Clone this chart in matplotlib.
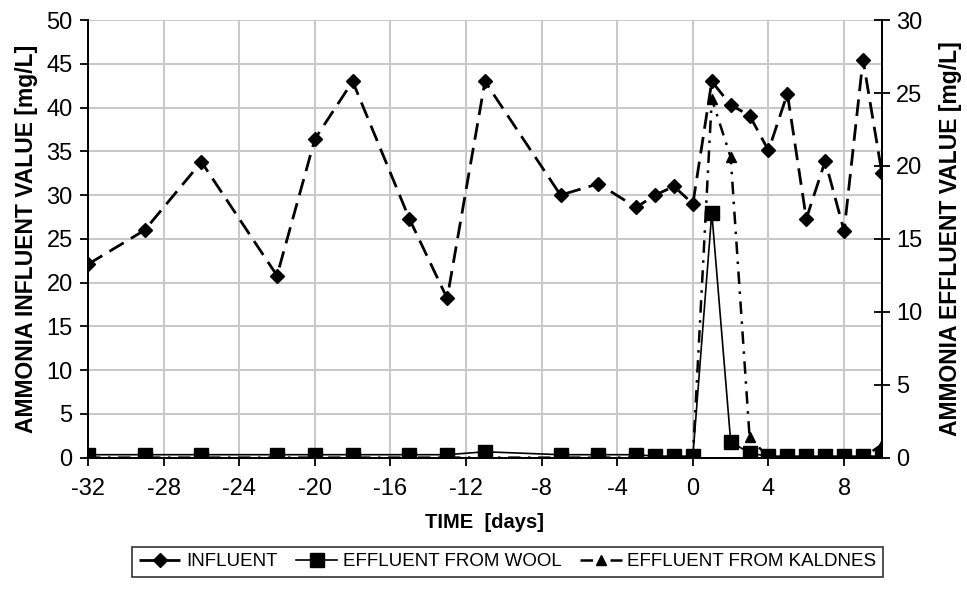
import numpy as np
import matplotlib.pyplot as plt

# ─── DATA ────────────────────────────────────────
days = [-32, -29, -26, -22, -20, -18, -15, -13, -11, -7, -5, -3, -2, -1,
        0, 1, 2, 3, 4, 5, 6, 7, 8, 9, 10]
influent = [22.1, 26.0, 33.8, 20.8, 36.4, 43.0, 27.3, 18.2, 43.0, 30.0,
            31.3, 28.6, 30.0, 31.0, 29.0, 43.0, 40.3, 39.1, 35.1, 41.6,
            27.3, 33.9, 25.9, 45.5, 32.5]
wool = [0.2, 0.2, 0.2, 0.2, 0.2, 0.2, 0.2, 0.2, 0.4, 0.2,
        0.2, 0.2, 0.1, 0.1, 0.1, 16.8, 1.1, 0.3, 0.1, 0.1,
        0.1, 0.1, 0.1, 0.1, 0.1]
kaldnes = [0.0, 0.0, 0.0, 0.0, 0.0, 0.0, 0.0, 0.0, 0.0, 0.0,
           0.0, 0.0, 0.0, 0.0, 0.0, 24.6, 20.6, 1.4, 0.0, 0.0,
           0.0, 0.0, 0.0, 0.0, 0.9]
xticks = list(range(-32, 9, 4))

plt.rcParams['font.family'] = ['Liberation Sans', 'DejaVu Sans']
plt.rcParams['axes.unicode_minus'] = False

fig = plt.figure(figsize=(9.67, 5.92), dpi=100)
ax = fig.add_axes([0.091, 0.227, 0.821, 0.739])
ax2 = ax.twinx()

# ─── INFLUENT (eixo esquerdo) ────────────────────
l1, = ax.plot(days, influent, color='black', lw=2, dashes=(6, 3),
              marker='D', markersize=7, zorder=3, label='INFLUENT')

# ─── EFFLUENTS (eixo direito) ────────────────────
l3, = ax2.plot(days, kaldnes, color='black', lw=1.8, dashes=(5, 3, 1, 3),
               marker='^', markersize=7.5, zorder=2, label='EFFLUENT FROM KALDNES')
l2, = ax2.plot(days, wool, color='black', lw=1.2, marker='s',
               markersize=10, zorder=3, label='EFFLUENT FROM WOOL')

ax.set_xlim(-32, 10)
ax.set_ylim(0, 50)
ax2.set_ylim(0, 30)
ax.set_xticks(xticks)
ax.set_yticks(np.arange(0, 51, 5))
ax2.set_yticks(np.arange(0, 31, 5))

ax.grid(True, color='#c8c8c8', lw=1.4)
ax.set_axisbelow(True)
for a in (ax, ax2):
    a.spines['top'].set_visible(False)
    for s in ('left', 'right', 'bottom'):
        a.spines[s].set_linewidth(1.3)
ax.tick_params(axis='x', labelsize=17, length=6, width=1.3, direction='out', pad=9)
ax.tick_params(axis='y', labelsize=17, length=6, width=1.3, direction='out', pad=5)
ax2.tick_params(axis='y', labelsize=17, length=12, width=1.3, direction='inout', pad=4)

ax.set_ylabel('AMMONIA INFLUENT VALUE [mg/L]', fontsize=16.5, fontweight='bold', labelpad=6)
ax2.set_ylabel('AMMONIA EFFLUENT VALUE [mg/L]', fontsize=16.5, fontweight='bold', labelpad=12)
ax.set_xlabel('TIME  [days]', fontsize=14.5, fontweight='bold', labelpad=9)

leg = fig.legend(handles=[l1, l2, l3], loc='center', ncol=3,
                 bbox_to_anchor=(0.525, 0.051), frameon=True, fancybox=False,
                 edgecolor='black', prop={'size': 13.5},
                 handlelength=2.2, columnspacing=1.0, handletextpad=0.3,
                 borderpad=0.35)
leg.get_frame().set_linewidth(1.2)

plt.savefig('out.png', dpi=100)
